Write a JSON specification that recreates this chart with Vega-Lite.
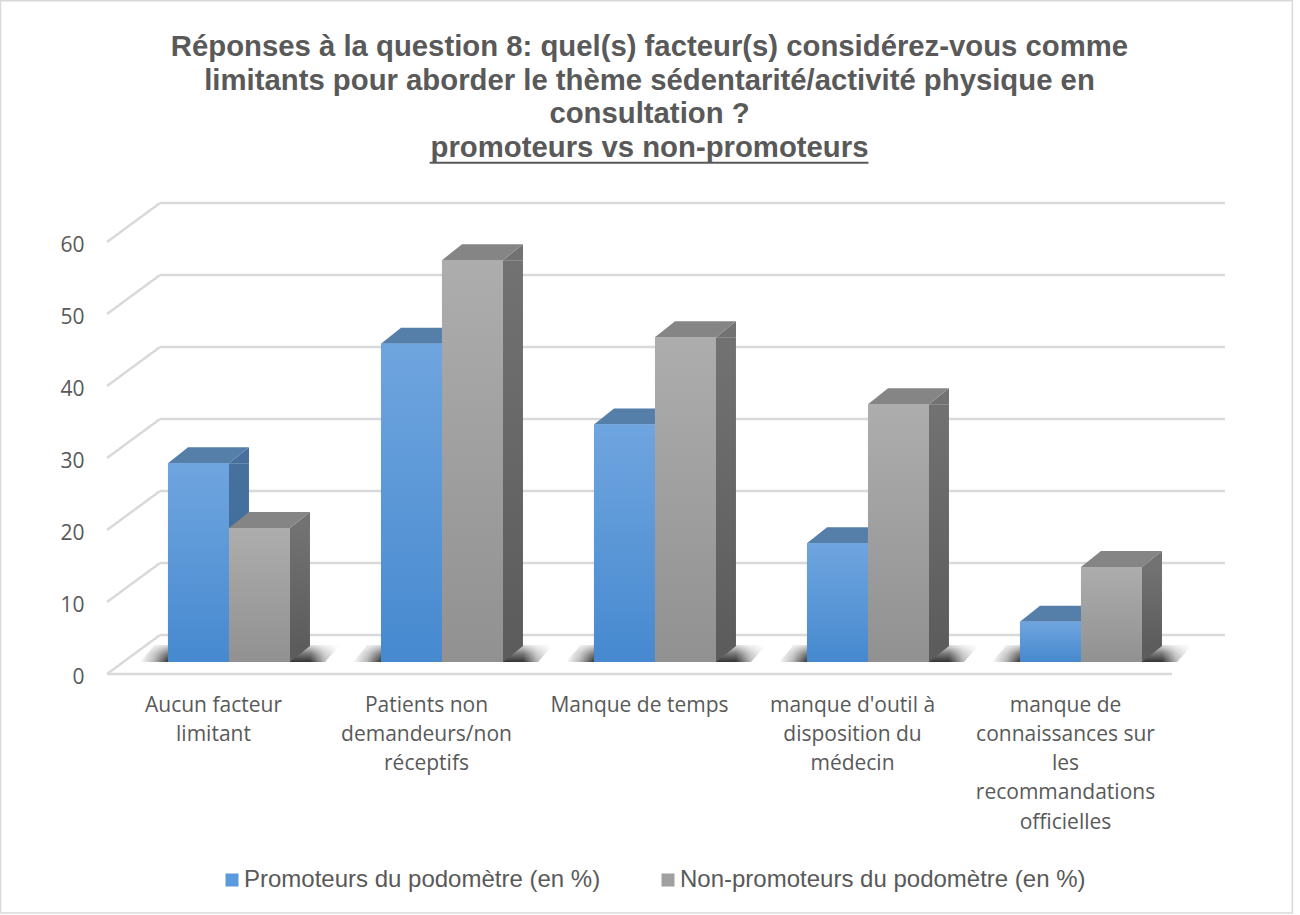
{
"$schema":"https://vega.github.io/schema/vega-lite/v6.json",
"width":1065,"height":432,
"autosize":{"type":"none"},
"padding":{"left":107,"top":242,"right":128,"bottom":241},
"background":"#ffffff",
"title":{"text":["Réponses à la question 8: quel(s) facteur(s) considérez-vous comme","limitants pour aborder le thème sédentarité/activité physique en","consultation ?","promoteurs vs non-promoteurs"],"font":"Liberation Sans","fontSize":29.3,"fontWeight":"bold","color":"#595959","lineHeight":33.5,"anchor":"middle","frame":"group","dx":10,"offset":-163},
"datasets":{
"bars":[
{"cat":"Aucun facteur limitant","series":"Promoteurs du podomètre (en %)","value":27.6},
{"cat":"Aucun facteur limitant","series":"Non-promoteurs du podomètre (en %)","value":18.6},
{"cat":"Patients non demandeurs/non réceptifs","series":"Promoteurs du podomètre (en %)","value":44.2},
{"cat":"Patients non demandeurs/non réceptifs","series":"Non-promoteurs du podomètre (en %)","value":55.8},
{"cat":"Manque de temps","series":"Promoteurs du podomètre (en %)","value":33},
{"cat":"Manque de temps","series":"Non-promoteurs du podomètre (en %)","value":45.1},
{"cat":"manque d'outil à disposition du médecin","series":"Promoteurs du podomètre (en %)","value":16.5},
{"cat":"manque d'outil à disposition du médecin","series":"Non-promoteurs du podomètre (en %)","value":35.8},
{"cat":"manque de connaissances sur les recommandations officielles","series":"Promoteurs du podomètre (en %)","value":5.6},
{"cat":"manque de connaissances sur les recommandations officielles","series":"Non-promoteurs du podomètre (en %)","value":13.2}
],
"grid":[{"v":0},{"v":10},{"v":20},{"v":30},{"v":40},{"v":50},{"v":60}]
},
"layer":[
{"data":{"values":[{"frame":1}]},"mark":{"type":"rect","fill":null,"stroke":"#d9d9d9","strokeWidth":1.5},
 "encoding":{"x":{"datum":-10,"type":"quantitative","scale":{"domain":[0,100],"nice":false,"zero":false},"axis":null},"x2":{"datum":111.3},"y":{"datum":93.5,"type":"quantitative","scale":{"domain":[0,60],"nice":false},"title":null,"axis":{"domain":false,"ticks":false,"grid":false,"values":[0,10,20,30,40,50,60],"labelFont":"Open Sans","labelFontSize":21,"labelColor":"#595959","labelPadding":23,"labelOffset":3}},"y2":{"datum":-33.2}}},
{"data":{"values":[{"underline":1}]},"mark":{"type":"rule","color":"#595959","strokeWidth":2},
 "encoding":{"x":{"datum":30.3,"type":"quantitative","scale":{"domain":[0,100],"nice":false,"zero":false},"axis":null},"x2":{"datum":71.5},"y":{"datum":71,"type":"quantitative"}}},
{"data":{"name":"grid"},"mark":{"type":"rule","color":"#d9d9d9","strokeWidth":2.5,"xOffset":53,"x2Offset":53,"yOffset":-39},
 "encoding":{"x":{"datum":0,"type":"quantitative","scale":{"domain":[0,100],"nice":false,"zero":false},"axis":null},"x2":{"datum":100},"y":{"field":"v","type":"quantitative"}}},
{"data":{"name":"grid"},"mark":{"type":"rule","color":"#d9d9d9","strokeWidth":2.5,"x2Offset":53,"y2Offset":-39},
 "encoding":{"x":{"datum":0,"type":"quantitative","scale":{"domain":[0,100],"nice":false,"zero":false},"axis":null},"x2":{"datum":0},"y":{"field":"v","type":"quantitative"},"y2":{"field":"v"}}},
{"data":{"values":[{"v":0}]},"mark":{"type":"rule","color":"#d9d9d9","strokeWidth":2.5},
 "encoding":{"x":{"datum":0,"type":"quantitative","scale":{"domain":[0,100],"nice":false,"zero":false},"axis":null},"x2":{"datum":100},"y":{"field":"v","type":"quantitative"}}},
{"data":{"name":"bars"},
 "encoding":{
  "x":{"field":"cat","type":"nominal","sort":null,"title":null,"scale":{"paddingInner":0.427,"paddingOuter":0.2135},
   "axis":{"domain":false,"ticks":false,"labelAngle":0,"labelFont":"Open Sans","labelFontSize":21,"labelColor":"#595959","labelPadding":20,"labelBaseline":"top","labelLineHeight":29.3,"labelAlign":"center","labelLimit":0,
    "labelExpr":"{'Aucun facteur limitant':['Aucun facteur','limitant'],'Patients non demandeurs/non réceptifs':['Patients non','demandeurs/non','réceptifs'],'Manque de temps':['Manque de temps'],'manque d\\'outil à disposition du médecin':['manque d\\'outil à','disposition du','médecin'],'manque de connaissances sur les recommandations officielles':['manque de','connaissances sur','les','recommandations','officielles']}[datum.label]"}},
  "y":{"type":"quantitative","field":"value","scale":{"domain":[0,60],"nice":false},"title":null}
 },
 "layer":[
  {"transform":[{"filter":"datum.series=='Promoteurs du podomètre (en %)'"}],
   "mark":{"type":"point","filled":true,"strokeWidth":0,"opacity":1,"shape":"M-1,0 L0.85,0 L1,-0.17 L-0.85,-0.17 Z","size":40000,"xOffset":26.5,"yOffset":-12,
    "fill":{"gradient":"linear","x1":0,"y1":0,"x2":1,"y2":0,"stops":[{"offset":0,"color":"rgba(40,40,40,0)"},{"offset":0.07,"color":"rgba(40,40,40,0.35)"},{"offset":0.14,"color":"rgba(40,40,40,0.95)"},{"offset":0.85,"color":"rgba(40,40,40,0.95)"},{"offset":0.92,"color":"rgba(40,40,40,0.35)"},{"offset":1,"color":"rgba(40,40,40,0)"}]}},
   "encoding":{"y":{"datum":0,"type":"quantitative"}}},
  {"transform":[{"filter":"datum.series=='Promoteurs du podomètre (en %)'"}],
   "mark":{"type":"point","filled":true,"strokeWidth":0,"opacity":1,"shape":"M-1,0 L0.85,0 L1,-0.17 L-0.85,-0.17 Z","size":40000,"xOffset":26.5,"yOffset":-12,
    "fill":{"gradient":"linear","x1":0,"y1":0,"x2":0,"y2":1,"stops":[{"offset":0,"color":"rgba(255,255,255,0.85)"},{"offset":0.5,"color":"rgba(255,255,255,0.35)"},{"offset":1,"color":"rgba(255,255,255,0)"}]}},
   "encoding":{"y":{"datum":0,"type":"quantitative"}}},
  {"layer":[
    {"transform":[{"filter":"datum.series=='Promoteurs du podomètre (en %)'"}],"mark":{"type":"bar","width":20,"yOffset":-12,"y2Offset":-28,"fill":{"gradient":"linear","x1":0,"y1":0,"x2":0,"y2":1,"stops":[{"offset":0,"color":"#47719c"},{"offset":1,"color":"#3a6ba0"}]}},
     "encoding":{"y2":{"datum":0}}},
    {"transform":[{"filter":"datum.series!='Promoteurs du podomètre (en %)'"}],"mark":{"type":"bar","width":20,"yOffset":-12,"y2Offset":-28,"fill":{"gradient":"linear","x1":0,"y1":0,"x2":0,"y2":1,"stops":[{"offset":0,"color":"#727272"},{"offset":1,"color":"#5c5c5c"}]}},
     "encoding":{"y2":{"datum":0}}}
   ],
   "encoding":{"xOffset":{"field":"series","type":"nominal","sort":["Promoteurs du podomètre (en %)","Non-promoteurs du podomètre (en %)"],"scale":{"range":[56,178]}}}},
  {"layer":[
    {"mark":{"type":"point","filled":true,"strokeWidth":0,"opacity":1,"shape":"M1,0 L1.656,-0.525 L1.656,0 Z","size":3721,"yOffset":-12},
     "encoding":{"color":{"field":"series","type":"nominal","legend":null,"scale":{"domain":["Promoteurs du podomètre (en %)","Non-promoteurs du podomètre (en %)"],"range":["#47719c","#727272"]}}}},
    {"mark":{"type":"point","filled":true,"strokeWidth":0,"opacity":1,"shape":"M1,0 L1.656,-0.525 L1,-0.525 Z","size":3721,"yOffset":-12},
     "encoding":{"y":{"datum":0,"type":"quantitative"},"color":{"field":"series","type":"nominal","legend":null,"scale":{"domain":["Promoteurs du podomètre (en %)","Non-promoteurs du podomètre (en %)"],"range":["#3a6ba0","#5c5c5c"]}}}},
    {"mark":{"type":"point","filled":true,"strokeWidth":0,"opacity":1,"shape":"M-1,0 L1,0 L1.656,-0.525 L-0.344,-0.525 Z","size":3721,"yOffset":-12},
     "encoding":{"color":{"field":"series","type":"nominal","legend":null,"scale":{"domain":["Promoteurs du podomètre (en %)","Non-promoteurs du podomètre (en %)"],"range":["#557fa9","#858585"]}}}},
    {"mark":{"type":"bar","yOffset":-12,"y2Offset":-12},
     "encoding":{"color":{"field":"series","type":"nominal","title":null,
       "scale":{"domain":["Promoteurs du podomètre (en %)","Non-promoteurs du podomètre (en %)"],"range":["#5a99dc","#a0a0a0"]},
       "legend":{"orient":"none","legendX":113,"legendY":626,"direction":"horizontal","symbolType":"square","symbolSize":169,"symbolStrokeWidth":0,"labelFont":"Liberation Sans","labelFontSize":24,"labelColor":"#595959","labelLimit":0,"columnPadding":55,"labelOffset":0,"title":null}}}},
    {"transform":[{"filter":"datum.series=='Promoteurs du podomètre (en %)'"}],"mark":{"type":"bar","yOffset":-12,"y2Offset":-12,"fill":{"gradient":"linear","x1":0,"y1":0,"x2":0,"y2":1,"stops":[{"offset":0,"color":"#6fa5df"},{"offset":1,"color":"#4689cf"}]}}},
    {"transform":[{"filter":"datum.series!='Promoteurs du podomètre (en %)'"}],"mark":{"type":"bar","yOffset":-12,"y2Offset":-12,"fill":{"gradient":"linear","x1":0,"y1":0,"x2":0,"y2":1,"stops":[{"offset":0,"color":"#adadad"},{"offset":1,"color":"#919191"}]}}}
   ],
   "encoding":{"xOffset":{"field":"series","type":"nominal","sort":["Promoteurs du podomètre (en %)","Non-promoteurs du podomètre (en %)"],"scale":{"range":[15.5,137.5]}}},
   "resolve":{"scale":{"color":"independent"}}}
 ],
 "resolve":{"scale":{"color":"independent","xOffset":"independent"}}
}
],
"resolve":{"scale":{"x":"independent"}},
"config":{"view":{"stroke":null}}
}
